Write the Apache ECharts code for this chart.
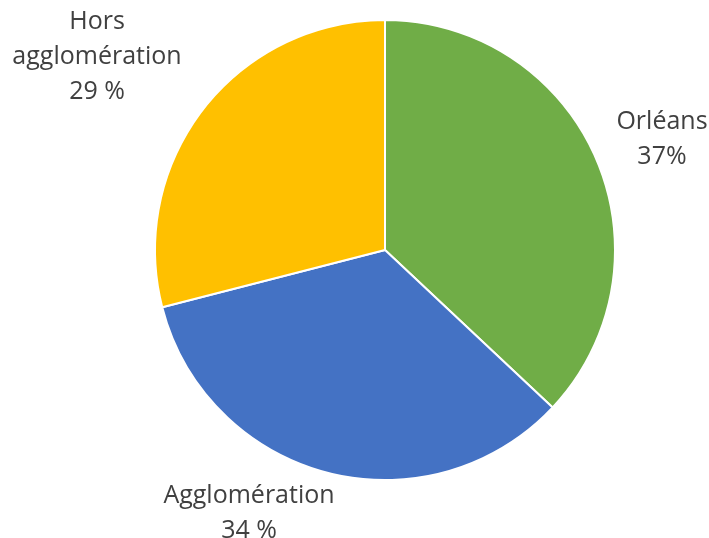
<!DOCTYPE html>
<html>
<head>
<meta charset="utf-8">
<script src="https://cdn.jsdelivr.net/npm/echarts@6/dist/echarts.min.js"></script>
<style>
  html, body { margin: 0; padding: 0; background: #ffffff; }
  #chart { width: 709px; height: 538px; }
</style>
</head>
<body>
<div id="chart"></div>
<script>
// Répartition par zone géographique
const categories = ['Orléans', 'Agglomération', 'Hors\nagglomération'];
const values = [37, 34, 29];
const labelTexts = ['Orléans\n37%', 'Agglomération\n34 %', 'Hors\nagglomération\n29 %'];
const colors = ['#70AD47', '#4472C4', '#FFC000'];

// Label anchor points (px) for each slice
const labelAnchors = [[662, 139], [249, 513], [97, 57]];

const chart = echarts.init(document.getElementById('chart'), null, { renderer: 'canvas' });

chart.setOption({
  backgroundColor: '#ffffff',
  animation: false,
  series: [{
    type: 'pie',
    center: [385, 250],
    radius: 230,
    startAngle: 90,
    clockwise: true,
    data: categories.map((name, i) => ({
      name: name,
      value: values[i],
      itemStyle: { color: colors[i] },
      label: { formatter: labelTexts[i] }
    })),
    itemStyle: { borderColor: '#ffffff', borderWidth: 2 },
    label: {
      show: true,
      position: 'outside',
      color: '#404040',
      fontFamily: 'Open Sans, Liberation Sans, sans-serif',
      fontSize: 25,
      lineHeight: 35,
      align: 'center',
      overflow: 'none'
    },
    labelLine: { show: false },
    labelLayout: function (params) {
      const p = labelAnchors[params.dataIndex];
      return { x: p[0], y: p[1], align: 'center', verticalAlign: 'middle' };
    }
  }]
});
</script>
</body>
</html>
